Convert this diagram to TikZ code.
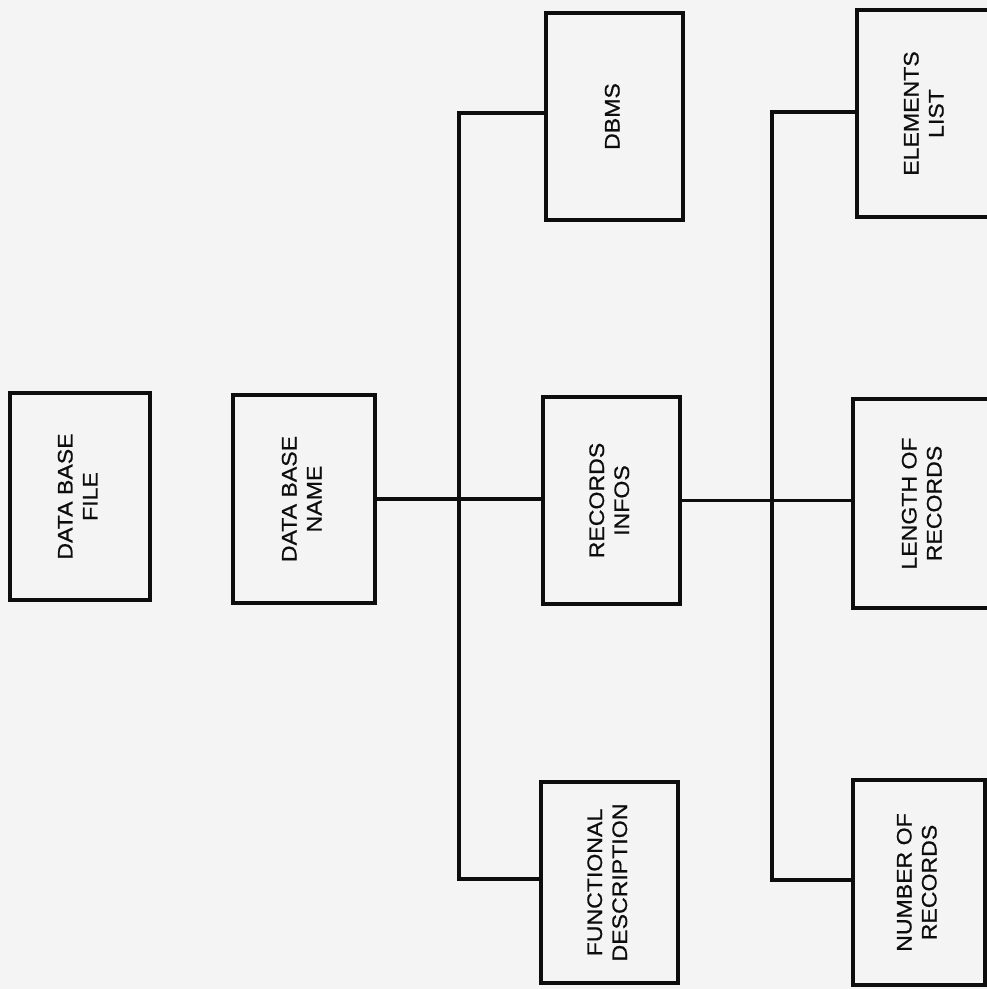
\documentclass[tikz,border=0pt]{standalone}
\usepackage{fontspec}
\setmainfont{Liberation Sans}[FakeStretch=1.1,FakeBold=0.6]
\definecolor{paper}{gray}{0.955}
\definecolor{ink}{gray}{0.05}
\newcommand{\vlab}[1]{\rotatebox{90}{\begin{tabular}{@{}c@{}}#1\end{tabular}}}
\tikzset{
  blk/.style={draw=ink, line width=4pt, rectangle, inner sep=0pt,
    font=\fontsize{21}{25}\selectfont, text=ink},
  conn/.style={draw=ink, line width=3.6pt, line cap=rect}
}
\begin{document}
\begin{tikzpicture}[x=1pt,y=-1pt]
\useasboundingbox (0,0) rectangle (987,989);
\fill[paper] (0,0) rectangle (987,989);
\begin{scope}
\clip (0,0) rectangle (987,989);
% boxes
\node[blk, minimum width=140pt, minimum height=207pt] (file) at (80,496.5) {\vlab{DATA BASE\\FILE}};
\node[blk, minimum width=142pt, minimum height=208pt] (name) at (304,499) {\vlab{DATA BASE\\NAME}};
\node[blk, minimum width=137pt, minimum height=207pt] (dbms) at (614.5,116.5) {\vlab{DBMS}};
\node[blk, minimum width=137pt, minimum height=207pt] (records) at (611.5,500.5) {\vlab{RECORDS\\INFOS}};
\node[blk, minimum width=137pt, minimum height=201pt] (func) at (609.5,882.5) {\vlab{FUNCTIONAL\\DESCRIPTION}};
\node[blk, minimum width=138pt, minimum height=207pt] (elements) at (926,113.5) {\vlab{ELEMENTS\\LIST}};
\node[blk, minimum width=142pt, minimum height=209pt] (length) at (924,503.5) {\vlab{LENGTH OF\\RECORDS}};
\node[blk, minimum width=132pt, minimum height=205pt] (number) at (919,882.5) {\vlab{NUMBER OF\\RECORDS}};
% trunk 1
\coordinate (j1) at (459,113);
\coordinate (j2) at (459,879);
\draw[conn] (j1 -| dbms.west) -- (j1) -- (j2) -- (j2 -| func.west);
\draw[conn] (name.east) -- (name.east -| records.west);
% trunk 2
\coordinate (k1) at (772,112);
\coordinate (k2) at (772,880);
\draw[conn] (k1 -| elements.west) -- (k1) -- (k2) -- (k2 -| number.west);
\draw[conn] (records.east) -- (records.east -| length.west);
\end{scope}
\end{tikzpicture}
\end{document}
